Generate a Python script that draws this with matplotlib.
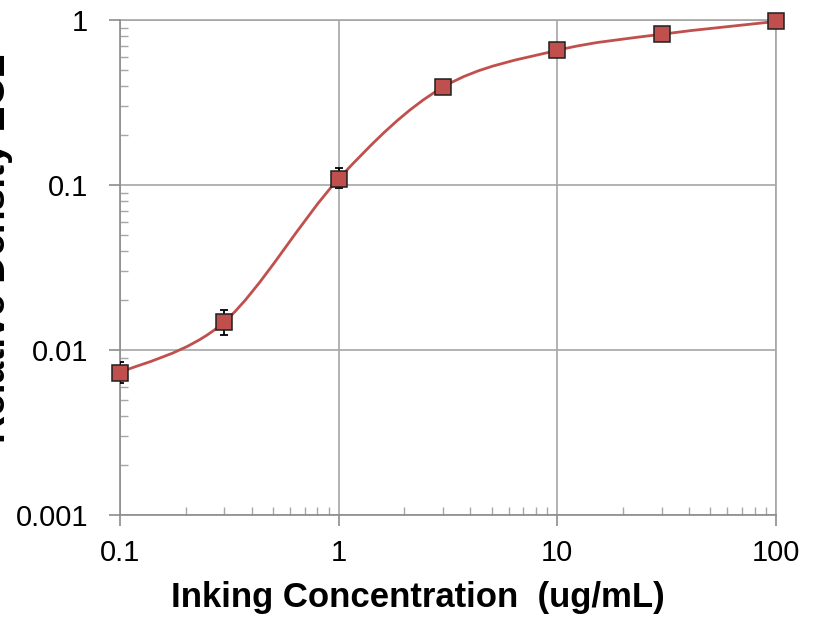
import numpy as np
import matplotlib
matplotlib.use('Agg')
import matplotlib.pyplot as plt
from matplotlib.path import Path
from matplotlib.patches import PathPatch
from matplotlib.ticker import LogLocator, NullFormatter, FixedLocator, FixedFormatter

plt.rcParams['font.family'] = ['Liberation Sans', 'DejaVu Sans']

# data
conc = [0.1, 0.3, 1, 3, 10, 30, 100]
density = [0.0073, 0.0148, 0.109, 0.392, 0.655, 0.82, 0.98]
err_low = [0.0010, 0.0025, 0.013, 0.0, 0.0, 0.0, 0.0]
err_high = [0.0012, 0.0027, 0.018, 0.0, 0.0, 0.0, 0.0]

xticks = [0.1, 1, 10, 100]
xtick_labels = ['0.1', '1', '10', '100']
yticks = [0.001, 0.01, 0.1, 1]
ytick_labels = ['0.001', '0.01', '0.1', '1']

red = '#C0504D'
gray = '#A6A6A6'

fig = plt.figure(figsize=(8.14, 6.19), dpi=100)
ax = fig.add_axes([120/814, 1 - 515/619, 656/814, 495/619])
ax.set_xscale('log')
ax.set_yscale('log')
ax.set_xlim(0.1, 100)
ax.set_ylim(0.001, 1)

#--------------------------------------
# Excel-style smoothed line: cardinal bezier in log space
#--------------------------------------
lx = np.log10(conc)
ly = np.log10(density)
n = len(lx)
verts = [(lx[0], ly[0])]
codes = [Path.MOVETO]
for i in range(n - 1):
    p0 = max(i - 1, 0)
    p3 = min(i + 2, n - 1)
    c1 = (lx[i] + (lx[i + 1] - lx[p0]) / 6, ly[i] + (ly[i + 1] - ly[p0]) / 6)
    c2 = (lx[i + 1] - (lx[p3] - lx[i]) / 6, ly[i + 1] - (ly[p3] - ly[i]) / 6)
    verts += [c1, c2, (lx[i + 1], ly[i + 1])]
    codes += [Path.CURVE4] * 3
verts = 10 ** np.array(verts)
curve = PathPatch(Path(verts, codes), facecolor='none', edgecolor=red,
                  linewidth=2.0, zorder=3)
ax.add_patch(curve)

ax.errorbar(conc, density, yerr=[err_low, err_high], fmt='none',
            ecolor='black', elinewidth=1.3, capsize=3, capthick=1.3, zorder=4)
ax.plot(conc, density, 's', markersize=11.5, markerfacecolor=red,
        markeredgecolor='#1F1F1F', markeredgewidth=1.1, zorder=5,
        clip_on=False)

# axes styling
for s in ['top', 'right']:
    ax.spines[s].set_visible(False)
for s in ['left', 'bottom']:
    ax.spines[s].set_color('#8C8C8C')
    ax.spines[s].set_linewidth(1.2)

ax.xaxis.set_major_locator(FixedLocator(xticks))
ax.xaxis.set_major_formatter(FixedFormatter(xtick_labels))
ax.yaxis.set_major_locator(FixedLocator(yticks))
ax.yaxis.set_major_formatter(FixedFormatter(ytick_labels))
ax.xaxis.set_minor_locator(LogLocator(base=10, subs=np.arange(2, 10)))
ax.yaxis.set_minor_locator(LogLocator(base=10, subs=np.arange(2, 10)))
ax.xaxis.set_minor_formatter(NullFormatter())
ax.yaxis.set_minor_formatter(NullFormatter())

ax.tick_params(which='major', direction='out', length=8, width=1.2,
               color='#8C8C8C', labelsize=21, pad=9)
ax.tick_params(which='minor', direction='in', length=6, width=1.0,
               color='#A6A6A6')
ax.tick_params(axis='y', which='major', pad=15)

ax.grid(True, which='major', color=gray, linewidth=1.2)
ax.axhline(1, color=gray, linewidth=1.2, clip_on=False, zorder=0.5)
ax.axvline(100, color=gray, linewidth=1.2, clip_on=False, zorder=0.5)
ax.set_axisbelow(True)

ax.set_xlabel('Inking Concentration  (ug/mL)', fontsize=25,
              fontweight='bold', labelpad=10)
ax.xaxis.label.set_x(0.454)
fig.text(13/814, 1 - 248/619, 'Relative Density ECL', rotation=90,
         fontsize=28, fontweight='bold', ha='right', va='center')

fig.savefig('out.png', dpi=100)
